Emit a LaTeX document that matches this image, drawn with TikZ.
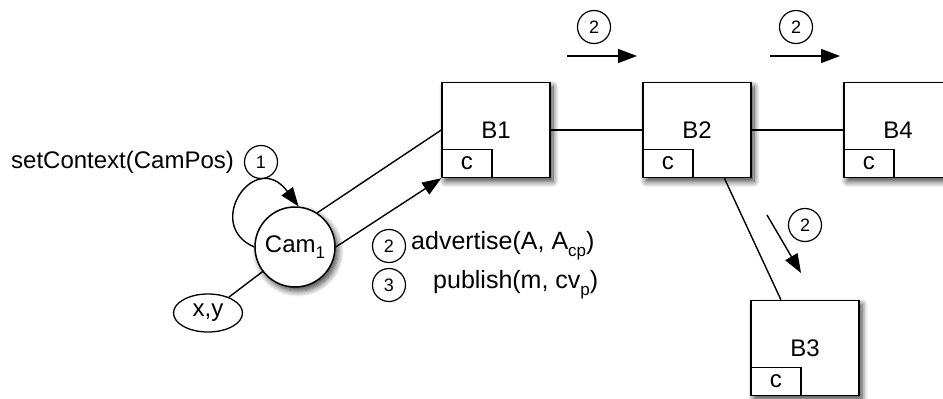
\documentclass[tikz,border=0pt]{standalone}
\usepackage{fontspec}
\setmainfont{Liberation Sans}
\usetikzlibrary{arrows.meta,shadows.blur,calc,shapes.geometric}
\newcommand\lowidx[1]{\raisebox{-0.5ex}{\fontsize{17}{17}\selectfont #1}}
\tikzset{
  every node/.style={font=\fontsize{24}{24}\selectfont, inner sep=0pt},
  big/.style={font=\fontsize{25}{25}\selectfont},
  soft/.style={blur shadow={shadow xshift=3pt, shadow yshift=-4pt, shadow blur steps=8, shadow blur radius=6pt, shadow opacity=75}},
  block/.style={draw, line width=1.5pt, fill=white, minimum width=108pt, minimum height=95pt, soft},
  cbox/.style={draw, line width=1.3pt, fill=white, minimum width=50pt, minimum height=28pt, anchor=south west},
  num/.style={draw, circle, line width=1.2pt, minimum size=33pt, font=\fontsize{18}{18}\selectfont},
  conn/.style={line width=1.4pt},
  tipped/.style={conn, -{Triangle[length=19pt, width=14pt]}},
}
\begin{document}
\begin{tikzpicture}[x=1pt, y=-1pt]
\useasboundingbox (0,0) rectangle (943,399);
\clip (0,0) rectangle (943,399);

% buffer blocks, each with its context field
\node[block] (B1) at (496,130) {B1};
\node[block] (B2) at (697,130) {B2};
\node[block] (B4) at (898,130) {B4};
\node[block] (B3) at (805,348) {B3};
\foreach \b in {B1,B2,B3,B4}
  \node[cbox] (c\b) at (\b.south west) {c};

% links between blocks
\draw[conn] (B1.east) -- (B2.west);
\draw[conn] (B2.east) -- (B4.west);
\draw[conn] ($(B2.south west)!0.75!(B2.south east)$) -- ($(B3.north west)!0.28!(B3.north east)$);

% camera and its position
\node[draw, circle, line width=1.5pt, fill=white, minimum size=80pt, soft] (cam) at (295,247) {Cam\lowidx{1}};
\node[draw, ellipse, line width=1.3pt, minimum width=69pt, minimum height=38pt] (xy) at (208,313) {x,y};
\draw[conn] (xy) -- (cam);

% self loop: setting the context
\draw[tipped] (cam.180) .. controls (203,225) and (255,148) .. (cam.85);
\node[anchor=west] (ctx) at (11,162) {setContext(CamPos)};
\node[num] (n1) at (261,162) {1};

% camera to first block
\draw[conn] (cam.57) -- (B1.west);
\draw[tipped] (cam.east) -- (B1.south west);
\node[num] (n2) at (389,246) {2};
\node[anchor=west, big] (adv) at (411,246) {advertise(A, A\lowidx{cp})};
\node[num] (n3) at (389,285) {3};
\node[anchor=west, big] (pub) at (433,285) {publish(m, cv\lowidx{p})};

% propagation of the advertisement
\coordinate (a1s) at (567,56);  \coordinate (a1e) at (637,56);
\coordinate (a2s) at (770,56);  \coordinate (a2e) at (840,56);
\coordinate (a3s) at (767,215); \coordinate (a3e) at (801,273);
\draw[tipped] (a1s) -- (a1e);
\draw[tipped] (a2s) -- (a2e);
\draw[tipped] (a3s) -- (a3e);
\node[num] (n4) at (594,27) {2};
\node[num] (n5) at (796,27) {2};
\node[num] (n6) at (805,225) {2};
\end{tikzpicture}
\end{document}
